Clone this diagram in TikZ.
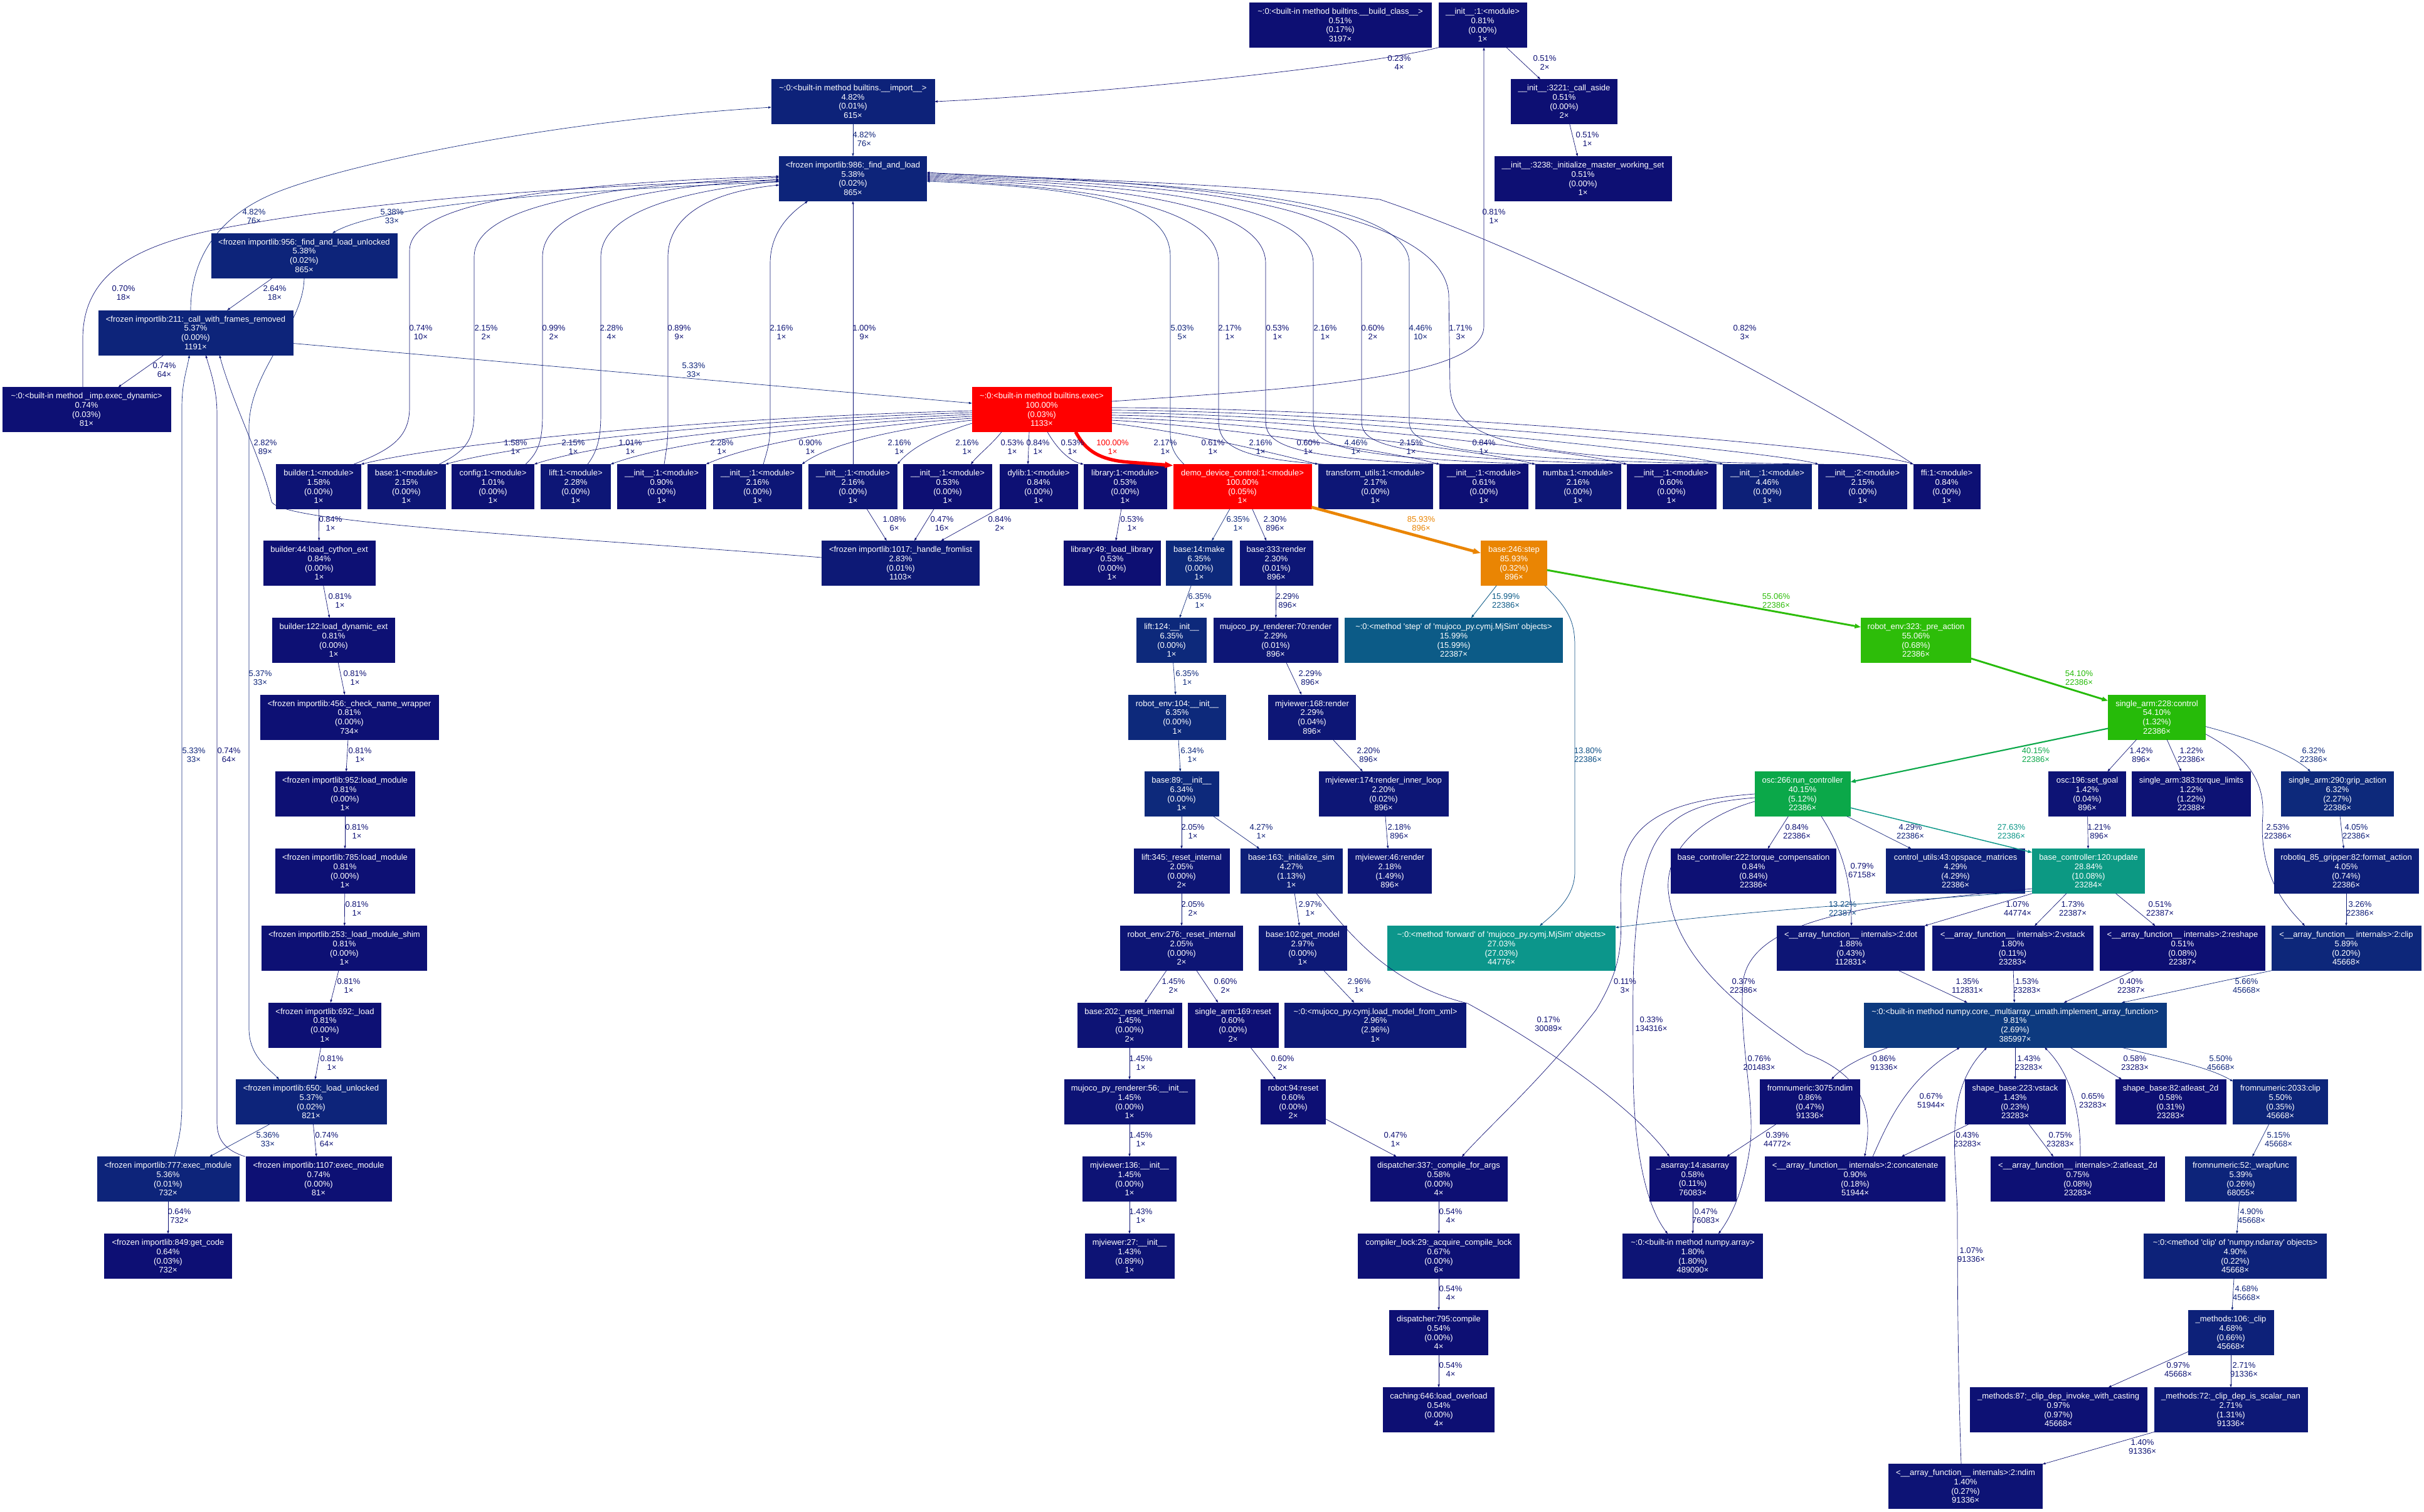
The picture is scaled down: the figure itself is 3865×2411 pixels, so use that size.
\documentclass[tikz,border=0pt]{standalone}
\usepackage{fontspec}
\newfontfamily\gvfont{Liberation Sans}
\usetikzlibrary{arrows.meta}

\newcommand\gvf{\gvfont\fontsize{13}{14.7}\selectfont}

% heat colour: hue runs from dark blue (0%) to red (100%)
\newcommand\heatcolor[2]{%
  \pgfmathsetmacro\hcW{min(max(#2/100,0),1)}%
  \pgfmathsetmacro\hcH{4*(1-\hcW)}%
  \pgfmathsetmacro\hcS{0.8+0.2*\hcW}%
  \pgfmathsetmacro\hcL{0.25+0.25*\hcW}%
  \pgfmathsetmacro\hcC{(1-abs(2*\hcL-1))*\hcS}%
  \pgfmathsetmacro\hcM{\hcL-\hcC/2}%
  \pgfmathsetmacro\hcX{\hcC*(1-abs(mod(\hcH,2)-1))}%
  \pgfmathsetmacro\hcA{\hcM+\hcC}%
  \pgfmathsetmacro\hcB{\hcM+\hcX}%
  \ifdim\hcH pt<1pt \definecolor{#1}{rgb}{\hcA,\hcB,\hcM}%
  \else\ifdim\hcH pt<2pt \definecolor{#1}{rgb}{\hcB,\hcA,\hcM}%
  \else\ifdim\hcH pt<3pt \definecolor{#1}{rgb}{\hcM,\hcA,\hcB}%
  \else \definecolor{#1}{rgb}{\hcM,\hcB,\hcA}\fi\fi\fi}

\tikzset{
  gbox/.style={rectangle,fill=#1,draw=#1,text=white,minimum height=71pt,
    inner xsep=3pt,inner ysep=2pt,align=center,font=\gvf},
  elab/.style={text=edgec,align=center,inner sep=0pt,font=\gvf},
  ed/.code={%
    \heatcolor{edgec}{#1}%
    \pgfmathsetmacro\edPW{max(#1*0.04,0.5)}%
    \pgfmathsetmacro\edLW{\edPW*4/3}%
    \pgfmathsetmacro\edAL{6.6667*sqrt(\edPW)}%
    \pgfmathsetmacro\edAW{0.7*\edAL}%
    \edef\edNext{\noexpand\pgfkeysalso{draw=edgec,line width=\edLW pt,
      -{Triangle[length=\edAL pt,width=\edAW pt]}}}%
    \edNext}
}

% name, x, y, width, total %, function, self %, calls
\newcommand\gnode[8]{\heatcolor{c#1}{#5}%
  \node[gbox=c#1,minimum width=#4pt] (#1) at (#2,#3) {#6\\#5\%\\(#7\%)\\#8×};}

\newcommand\mods{:1:<module>}
\newcommand\ini{\_\_init\_\_}

\begin{document}
\begin{tikzpicture}[x=1pt,y=-1pt]
\fill[white] (0,0) rectangle (3865,2411);
\useasboundingbox (0,0) rectangle (3865,2411);

% ---------------- functions ----------------
\gnode{buildclass}{2137}{40}{290}{0.51}{\textasciitilde:0:<built-in method builtins.\_\_build\_class\_\_>}{0.17}{3197}
\gnode{inittop}{2364}{40}{140}{0.81}{\ini\mods}{0.00}{1}
\gnode{import}{1360}{162}{260}{4.82}{\textasciitilde:0:<built-in method builtins.\_\_import\_\_>}{0.01}{615}
\gnode{callaside}{2494}{162}{169}{0.51}{\ini:3221:\_call\_aside}{0.00}{2}
\gnode{fal}{1360}{285}{235}{5.38}{<frozen importlib:986:\_find\_and\_load}{0.02}{865}
\gnode{imws}{2524}{285}{282}{0.51}{\ini:3238:\_initialize\_master\_working\_set}{0.00}{1}
\gnode{falu}{485}{407.5}{296}{5.38}{<frozen importlib:956:\_find\_and\_load\_unlocked}{0.02}{865}
\gnode{cwfr}{312}{530.5}{310}{5.37}{<frozen importlib:211:\_call\_with\_frames\_removed}{0.00}{1191}
\gnode{execdyn}{138}{653}{268}{0.74}{\textasciitilde:0:<built-in method \_imp.exec\_dynamic>}{0.03}{81}
\gnode{exec}{1661}{653}{222}{100.00}{\textasciitilde:0:<built-in method builtins.exec>}{0.03}{1133}

\gnode{builder1}{508}{776}{135}{1.58}{builder\mods}{0.00}{1}
\gnode{base1}{648}{776}{124}{2.15}{base\mods}{0.00}{1}
\gnode{config1}{786}{776}{131}{1.01}{config\mods}{0.00}{1}
\gnode{lift1}{918}{776}{111}{2.28}{lift\mods}{0.00}{1}
\gnode{initA}{1055}{776}{141}{0.90}{\ini\mods}{0.00}{1}
\gnode{initB}{1208}{776}{141}{2.16}{\ini\mods}{0.00}{1}
\gnode{initC}{1360}{776}{141}{2.16}{\ini\mods}{0.00}{1}
\gnode{initD}{1511}{776}{141}{0.53}{\ini\mods}{0.00}{1}
\gnode{dylib}{1656}{776}{124}{0.84}{dylib\mods}{0.00}{1}
\gnode{library}{1794}{776}{132}{0.53}{library\mods}{0.00}{1}
\gnode{demo}{1981}{776}{220}{100.00}{demo\_device\_control\mods}{0.05}{1}
\gnode{transform}{2193}{776}{182}{2.17}{transform\_utils\mods}{0.00}{1}
\gnode{initE}{2366}{776}{141}{0.61}{\ini\mods}{0.00}{1}
\gnode{numba}{2516}{776}{136}{2.16}{numba\mods}{0.00}{1}
\gnode{initF}{2665}{776}{142}{0.60}{\ini\mods}{0.00}{1}
\gnode{initG}{2818}{776}{141}{4.46}{\ini\mods}{0.00}{1}
\gnode{init2}{2970}{776}{141}{2.15}{\ini:2:<module>}{0.00}{1}
\gnode{ffi}{3104}{776}{106}{0.84}{ffi\mods}{0.00}{1}

\gnode{b44}{509}{898}{178}{0.84}{builder:44:load\_cython\_ext}{0.00}{1}
\gnode{fromlist}{1436}{898}{251}{2.83}{<frozen importlib:1017:\_handle\_fromlist}{0.01}{1103}
\gnode{lib49}{1773}{898}{154}{0.53}{library:49:\_load\_library}{0.00}{1}
\gnode{make}{1912}{898}{105}{6.35}{base:14:make}{0.00}{1}
\gnode{render333}{2035}{898}{116}{2.30}{base:333:render}{0.01}{896}
\gnode{step}{2414}{898}{105}{85.93}{base:246:step}{0.32}{896}

\gnode{b122}{532}{1021}{195}{0.81}{builder:122:load\_dynamic\_ext}{0.00}{1}
\gnode{lift124}{1868}{1021}{111}{6.35}{lift:124:\ini}{0.00}{1}
\gnode{mpr70}{2034}{1021}{198}{2.29}{mujoco\_py\_renderer:70:render}{0.01}{896}
\gnode{mjstep}{2318}{1021}{347}{15.99}{\textasciitilde:0:<method 'step' of 'mujoco\_py.cymj.MjSim' objects>}{15.99}{22387}
\gnode{preaction}{3055}{1021}{175}{55.06}{robot\_env:323:\_pre\_action}{0.68}{22386}

\gnode{cnw}{557}{1143.5}{284}{0.81}{<frozen importlib:456:\_check\_name\_wrapper}{0.00}{734}
\gnode{renv104}{1877}{1143.5}{155}{6.35}{robot\_env:104:\ini}{0.00}{1}
\gnode{mjv168}{2092}{1143.5}{139}{2.29}{mjviewer:168:render}{0.04}{896}
\gnode{control}{3439}{1143.5}{155}{54.10}{single\_arm:228:control}{1.32}{22386}

\gnode{lm952}{550}{1266}{222}{0.81}{<frozen importlib:952:load\_module}{0.00}{1}
\gnode{base89}{1884}{1266}{118}{6.34}{base:89:\ini}{0.00}{1}
\gnode{mjv174}{2206}{1266}{206}{2.20}{mjviewer:174:render\_inner\_loop}{0.02}{896}
\gnode{osc266}{2874}{1266}{152}{40.15}{osc:266:run\_controller}{5.12}{22386}
\gnode{osc196}{3328}{1266}{123}{1.42}{osc:196:set\_goal}{0.04}{896}
\gnode{torque}{3494}{1266}{189}{1.22}{single\_arm:383:torque\_limits}{1.22}{22388}
\gnode{grip}{3727}{1266}{179}{6.32}{single\_arm:290:grip\_action}{2.27}{22386}

\gnode{lm785}{550}{1389}{222}{0.81}{<frozen importlib:785:load\_module}{0.00}{1}
\gnode{lift345}{1884}{1389}{152}{2.05}{lift:345:\_reset\_internal}{0.00}{2}
\gnode{base163}{2059}{1389}{162}{4.27}{base:163:\_initialize\_sim}{1.13}{1}
\gnode{mjv46}{2216}{1389}{133}{2.18}{mjviewer:46:render}{1.49}{896}
\gnode{bc222}{2796}{1389}{263}{0.84}{base\_controller:222:torque\_compensation}{0.84}{22386}
\gnode{cu43}{3118}{1389}{221}{4.29}{control\_utils:43:opspace\_matrices}{4.29}{22386}
\gnode{update}{3330}{1389}{179}{28.84}{base\_controller:120:update}{10.08}{23284}
\gnode{robotiq}{3741}{1389}{230}{4.05}{robotiq\_85\_gripper:82:format\_action}{0.74}{22386}

\gnode{shim253}{549}{1512}{263}{0.81}{<frozen importlib:253:\_load\_module\_shim}{0.00}{1}
\gnode{renv276}{1884}{1512}{195}{2.05}{robot\_env:276:\_reset\_internal}{0.00}{2}
\gnode{getmodel}{2077}{1512}{140}{2.97}{base:102:get\_model}{0.00}{1}
\gnode{forward}{2394}{1512}{363}{27.03}{\textasciitilde:0:<method 'forward' of 'mujoco\_py.cymj.MjSim' objects>}{27.03}{44776}
\gnode{dot}{2951}{1512}{235}{1.88}{<\_\_array\_function\_\_ internals>:2:dot}{0.43}{112831}
\gnode{ivstack}{3209}{1512}{256}{1.80}{<\_\_array\_function\_\_ internals>:2:vstack}{0.11}{23283}
\gnode{reshape}{3480}{1512}{263}{0.51}{<\_\_array\_function\_\_ internals>:2:reshape}{0.08}{22387}
\gnode{iclip}{3741}{1512}{238}{5.89}{<\_\_array\_function\_\_ internals>:2:clip}{0.20}{45668}

\gnode{load692}{518}{1634.5}{179}{0.81}{<frozen importlib:692:\_load}{0.00}{1}
\gnode{base202}{1801}{1634.5}{166}{1.45}{base:202:\_reset\_internal}{0.00}{2}
\gnode{sa169}{1966}{1634.5}{144}{0.60}{single\_arm:169:reset}{0.00}{2}
\gnode{xml}{2193}{1634.5}{289}{2.96}{\textasciitilde:0:<mujoco\_py.cymj.load\_model\_from\_xml>}{2.96}{1}
\gnode{implement}{3213}{1634.5}{482}{9.81}{\textasciitilde:0:<built-in method numpy.core.\_multiarray\_umath.implement\_array\_function>}{2.69}{385997}

\gnode{lu650}{496}{1757}{240}{5.37}{<frozen importlib:650:\_load\_unlocked}{0.02}{821}
\gnode{mpr56}{1801}{1757}{208}{1.45}{mujoco\_py\_renderer:56:\ini}{0.00}{1}
\gnode{robot94}{2062}{1757}{103}{0.60}{robot:94:reset}{0.00}{2}
\gnode{fnndim}{2886}{1757}{159}{0.86}{fromnumeric:3075:ndim}{0.47}{91336}
\gnode{svstack}{3213}{1757}{160}{1.43}{shape\_base:223:vstack}{0.23}{23283}
\gnode{satl}{3461}{1757}{176}{0.58}{shape\_base:82:atleast\_2d}{0.31}{23283}
\gnode{fnclip}{3636}{1757}{151}{5.50}{fromnumeric:2033:clip}{0.35}{45668}

\gnode{em777}{268}{1880}{226}{5.36}{<frozen importlib:777:exec\_module}{0.01}{732}
\gnode{em1107}{508}{1880}{232}{0.74}{<frozen importlib:1107:exec\_module}{0.00}{81}
\gnode{mjv136}{1801}{1880}{149}{1.45}{mjviewer:136:\ini}{0.00}{1}
\gnode{disp337}{2294}{1880}{218}{0.58}{dispatcher:337:\_compile\_for\_args}{0.00}{4}
\gnode{asarray}{2699}{1880}{138}{0.58}{\_asarray:14:asarray}{0.11}{76083}
\gnode{concat}{2958}{1880}{287}{0.90}{<\_\_array\_function\_\_ internals>:2:concatenate}{0.18}{51944}
\gnode{iatl}{3313}{1880}{277}{0.75}{<\_\_array\_function\_\_ internals>:2:atleast\_2d}{0.08}{23283}
\gnode{wrapfunc}{3573}{1880}{177}{5.39}{fromnumeric:52:\_wrapfunc}{0.26}{68055}

\gnode{getcode}{268}{2003}{203}{0.64}{<frozen importlib:849:get\_code}{0.03}{732}
\gnode{mjv27}{1801}{2003}{142}{1.43}{mjviewer:27:\ini}{0.89}{1}
\gnode{clock}{2294}{2003}{257}{0.67}{compiler\_lock:29:\_acquire\_compile\_lock}{0.00}{6}
\gnode{nparray}{2699}{2003}{223}{1.80}{\textasciitilde:0:<built-in method numpy.array>}{1.80}{489090}
\gnode{mclip}{3564}{2003}{291}{4.90}{\textasciitilde:0:<method 'clip' of 'numpy.ndarray' objects>}{0.22}{45668}

\gnode{disp795}{2294}{2125}{157}{0.54}{dispatcher:795:compile}{0.00}{4}
\gnode{m106}{3557}{2125}{136}{4.68}{\_methods:106:\_clip}{0.66}{45668}
\gnode{caching}{2294}{2248}{177}{0.54}{caching:646:load\_overload}{0.00}{4}
\gnode{m87}{3282}{2248}{282}{0.97}{\_methods:87:\_clip\_dep\_invoke\_with\_casting}{0.97}{45668}
\gnode{m72}{3557}{2248}{244}{2.71}{\_methods:72:\_clip\_dep\_is\_scalar\_nan}{1.31}{91336}
\gnode{indim}{3134}{2370}{245}{1.40}{<\_\_array\_function\_\_ internals>:2:ndim}{0.27}{91336}

% ---------------- calls: import machinery ----------------
\draw[ed=0.23] (inittop.south west) .. controls (2180,105) and (1750,150) .. (import.east) node[elab] at (2231,100) {0.23\%\\4×};
\draw[ed=0.51] (inittop) -- (callaside) node[elab] at (2463,100) {0.51\%\\2×};
\draw[ed=0.51] (callaside) -- (imws) node[elab] at (2531,222) {0.51\%\\1×};
\draw[ed=4.82] (import) -- (fal) node[elab] at (1378,222) {4.82\%\\76×};
\draw[ed=4.82] ([xshift=-8]cwfr.north) .. controls (304,420) and (340,350) .. (433,310) .. controls (530,268) and (850,195) .. ([yshift=-9]import.west) node[elab] at (405,345) {4.82\%\\76×};
\draw[ed=5.38] ([yshift=-5]fal.west) .. controls (1000,300) and (620,320) .. ([xshift=45]falu.north) node[elab] at (625,345) {5.38\%\\33×};
\draw[ed=2.64] (falu) -- (cwfr) node[elab] at (438,467) {2.64\%\\18×};
\draw[ed=5.37] (falu.south) .. controls (484,520) and (398,590) .. (397,680) -- (397,1640) .. controls (397,1685) and (430,1705) .. ([xshift=-51]lu650.north) node[elab] at (415,1081) {5.37\%\\33×};
\draw[ed=0.74] (cwfr) -- (execdyn) node[elab] at (262,590) {0.74\%\\64×};
\draw[ed=0.70] ([xshift=-6]execdyn.north) -- (132,540) .. controls (132,440) and (210,395) .. (334,368) .. controls (600,315) and (1000,292) .. ([yshift=-3]fal.west) node[elab] at (197,467) {0.70\%\\18×};
\draw[ed=5.33] ([yshift=-17]cwfr.east) -- ([yshift=10]exec.west) node[elab] at (1106,590) {5.33\%\\33×};
\draw[ed=2.82] ([yshift=9]fromlist.west) .. controls (900,856) and (450,835) .. (433,800) .. controls (420,740) and (370,640) .. ([xshift=38]cwfr.south) node[elab] at (423,713) {2.82\%\\89×};
\draw[ed=5.33] ([xshift=10]em777.north) .. controls (286,1815) and (290,1795) .. (290,1760) -- (290,650) .. controls (290,610) and (298,590) .. ([xshift=-10]cwfr.south) node[elab] at (309,1204) {5.33\%\\33×};
\draw[ed=0.74] ([xshift=-117]em1107.north) .. controls (362,1835) and (346,1820) .. (346,1790) -- (346,660) .. controls (346,620) and (335,590) .. ([xshift=16]cwfr.south) node[elab] at (365,1204) {0.74\%\\64×};

% exec -> modules
\draw[ed=100] ([xshift=54]exec.south) .. controls (1728,712) and (1745,733) .. (1800,737) -- ([yshift=-2]demo.north west) node[elab] at (1774,713) {100.00\%\\1×};
\draw[ed=0.81] ([yshift=13]exec.east) .. controls (2100,618) and (2366,600) .. (2366,520) -- ([xshift=2]inittop.south) node[elab] at (2382,345) {0.81\%\\1×};
\draw[ed=1.58] ([yshift=-2]exec.west) .. controls (1150,665) and (720,705) .. (builder1.north east) node[elab] at (822,713) {1.58\%\\1×};
\draw[ed=2.15] ([yshift=-5]exec.west) .. controls (1200,668) and (840,705) .. (base1.north east) node[elab] at (914,713) {2.15\%\\1×};
\draw[ed=1.01] ([yshift=-8]exec.west) .. controls (1250,672) and (960,705) .. (config1.north east) node[elab] at (1005,713) {1.01\%\\1×};
\draw[ed=2.28] ([yshift=-11]exec.west) .. controls (1300,676) and (1070,705) .. (lift1.north east) node[elab] at (1151,713) {2.28\%\\1×};
\draw[ed=0.90] ([yshift=-14]exec.west) .. controls (1350,680) and (1200,708) .. (initA.north east) node[elab] at (1292,713) {0.90\%\\1×};
\draw[ed=2.16] ([yshift=-17]exec.west) .. controls (1420,684) and (1320,710) .. (initB.north east) node[elab] at (1434,713) {2.16\%\\1×};
\draw[ed=2.16] ([yshift=-22]exec.west) .. controls (1500,690) and (1455,712) .. (initC.north east) node[elab] at (1542,713) {2.16\%\\1×};
\draw[ed=0.53] ([xshift=-64]exec.south) .. controls (1580,710) and (1560,725) .. ([xshift=37]initD.north) node[elab] at (1614,713) {0.53\%\\1×};
\draw[ed=0.84] ([xshift=-20]exec.south) -- ([xshift=-17]dylib.north) node[elab] at (1655,713) {0.84\%\\1×};
\draw[ed=0.53] ([xshift=9]exec.south) .. controls (1685,715) and (1705,735) .. (library.north west) node[elab] at (1710,713) {0.53\%\\1×};
\draw[ed=2.17] ([yshift=-22]exec.east) .. controls (1900,690) and (2040,725) .. (transform.north west) node[elab] at (1858,713) {2.17\%\\1×};
\draw[ed=0.61] ([yshift=-17]exec.east) .. controls (1950,680) and (2220,720) .. (initE.north west) node[elab] at (1934,713) {0.61\%\\1×};
\draw[ed=2.16] ([yshift=-13]exec.east) .. controls (2000,672) and (2370,720) .. (numba.north west) node[elab] at (2010,713) {2.16\%\\1×};
\draw[ed=0.60] ([yshift=-9]exec.east) .. controls (2050,665) and (2520,720) .. (initF.north west) node[elab] at (2086,713) {0.60\%\\1×};
\draw[ed=4.46] ([yshift=-5]exec.east) .. controls (2100,660) and (2680,720) .. (initG.north west) node[elab] at (2162,713) {4.46\%\\1×};
\draw[ed=2.15] ([yshift=-1]exec.east) .. controls (2150,655) and (2830,720) .. (init2.north west) node[elab] at (2250,713) {2.15\%\\1×};
\draw[ed=0.84] ([yshift=3]exec.east) .. controls (2200,650) and (2980,715) .. (ffi.north west) node[elab] at (2366,713) {0.84\%\\1×};

% modules -> _find_and_load
\draw[ed=0.74] ([xshift=56]builder1.north) .. controls (620,718) and (653,700) .. (653,650) -- (653,400) .. controls (653,320) and (900,292) .. ([yshift=4]fal.west) node[elab] at (671,530) {0.74\%\\10×};
\draw[ed=2.15] ([xshift=52]base1.north) .. controls (745,718) and (756,700) .. (756,655) -- (756,410) .. controls (756,330) and (950,296) .. ([yshift=2]fal.west) node[elab] at (775,530) {2.15\%\\2×};
\draw[ed=0.99] ([xshift=52]config1.north) .. controls (860,720) and (865,700) .. (865,660) -- (865,410) .. controls (865,335) and (1000,300) .. ([yshift=-1]fal.west) node[elab] at (883,530) {0.99\%\\2×};
\draw[ed=2.28] ([xshift=19]lift1.north) .. controls (952,720) and (958,700) .. (958,660) -- (958,410) .. controls (958,340) and (1080,305) .. ([yshift=-4]fal.west) node[elab] at (975,530) {2.28\%\\4×};
\draw[ed=0.89] ([xshift=4]initA.north) .. controls (1062,720) and (1065,705) .. (1065,680) -- (1065,410) .. controls (1065,340) and (1140,305) .. ([yshift=-10]fal.west) node[elab] at (1083,530) {0.89\%\\9×};
\draw[ed=2.16] ([xshift=9]initB.north) .. controls (1223,720) and (1228,705) .. (1228,680) -- (1228,420) .. controls (1228,370) and (1260,340) .. ([xshift=-72]fal.south) node[elab] at (1246,530) {2.16\%\\1×};
\draw[ed=1.00] (initC) -- (fal) node[elab] at (1378,530) {1.00\%\\9×};
\draw[ed=5.03] ([xshift=-93]demo.north) .. controls (1872,725) and (1866,712) .. (1866,690) -- (1866,410) .. controls (1866,330) and (1760,300) .. ([yshift=-4]fal.east) node[elab] at (1885,530) {5.03\%\\5×};
\draw[ed=2.17] ([xshift=-83]transform.north) .. controls (1960,730) and (1943,705) .. (1943,670) -- (1943,420) .. controls (1943,330) and (1750,298) .. ([yshift=-2]fal.east) node[elab] at (1961,530) {2.17\%\\1×};
\draw[ed=0.53] ([xshift=-62]initE.north) .. controls (2040,730) and (2018,705) .. (2018,670) -- (2018,420) .. controls (2018,325) and (1780,296) .. (fal.east) node[elab] at (2037,530) {0.53\%\\1×};
\draw[ed=2.16] ([xshift=-60]numba.north) .. controls (2115,730) and (2094,705) .. (2094,670) -- (2094,420) .. controls (2094,320) and (1800,293) .. ([yshift=2]fal.east) node[elab] at (2113,530) {2.16\%\\1×};
\draw[ed=0.60] ([xshift=-62]initF.north) .. controls (2192,730) and (2171,705) .. (2171,670) -- (2171,420) .. controls (2171,315) and (1820,291) .. ([yshift=4]fal.east) node[elab] at (2189,530) {0.60\%\\2×};
\draw[ed=4.46] ([xshift=-62]initG.north) .. controls (2268,730) and (2247,705) .. (2247,670) -- (2247,420) .. controls (2247,310) and (1850,289) .. ([yshift=6]fal.east) node[elab] at (2265,530) {4.46\%\\10×};
\draw[ed=1.71] ([xshift=-62]init2.north) .. controls (2400,735) and (2320,700) .. (2312,620) -- (2310,470) .. controls (2300,330) and (1900,287) .. ([yshift=8]fal.east) node[elab] at (2329,530) {1.71\%\\3×};
\draw[ed=0.82] (ffi.north west) .. controls (2900,640) and (2500,420) .. (2200,318) .. controls (1950,290) and (1650,285) .. ([yshift=10]fal.east) node[elab] at (2782,530) {0.82\%\\3×};

% module loading chain
\draw[ed=0.84] (builder1) -- (b44) node[elab] at (527,835) {0.84\%\\1×};
\draw[ed=0.81] (b44) -- (b122) node[elab] at (542,958) {0.81\%\\1×};
\draw[ed=0.81] (b122) -- (cnw) node[elab] at (566,1081) {0.81\%\\1×};
\draw[ed=0.81] (cnw) -- (lm952) node[elab] at (574,1204) {0.81\%\\1×};
\draw[ed=0.81] (lm952) -- (lm785) node[elab] at (569,1326) {0.81\%\\1×};
\draw[ed=0.81] (lm785) -- (shim253) node[elab] at (569,1449) {0.81\%\\1×};
\draw[ed=0.81] (shim253) -- (load692) node[elab] at (556,1572) {0.81\%\\1×};
\draw[ed=0.81] (load692) -- (lu650) node[elab] at (529,1695) {0.81\%\\1×};
\draw[ed=5.36] (lu650) -- (em777) node[elab] at (427,1817) {5.36\%\\33×};
\draw[ed=0.74] (lu650) -- (em1107) node[elab] at (521,1817) {0.74\%\\64×};
\draw[ed=0.64] (em777) -- (getcode) node[elab] at (286,1939) {0.64\%\\732×};
\draw[ed=1.08] (initC) -- (fromlist) node[elab] at (1426,835) {1.08\%\\6×};
\draw[ed=0.47] (initD) -- (fromlist) node[elab] at (1502,835) {0.47\%\\16×};
\draw[ed=0.84] (dylib) -- (fromlist) node[elab] at (1594,835) {0.84\%\\2×};
\draw[ed=0.53] (library) -- (lib49) node[elab] at (1805,835) {0.53\%\\1×};

% simulation set-up and rendering
\draw[ed=6.35] (demo) -- (make) node[elab] at (1974,835) {6.35\%\\1×};
\draw[ed=2.30] (demo) -- (render333) node[elab] at (2033,835) {2.30\%\\896×};
\draw[ed=85.93] ([yshift=3]demo.south east) -- ([yshift=16]step.west) node[elab] at (2266,835) {85.93\%\\896×};
\draw[ed=6.35] (make) -- (lift124) node[elab] at (1913,958) {6.35\%\\1×};
\draw[ed=6.35] (lift124) -- (renv104) node[elab] at (1893,1081) {6.35\%\\1×};
\draw[ed=6.34] (renv104) -- (base89) node[elab] at (1901,1204) {6.34\%\\1×};
\draw[ed=2.05] (base89) -- (lift345) node[elab] at (1902,1326) {2.05\%\\1×};
\draw[ed=4.27] (base89) -- (base163) node[elab] at (2011,1326) {4.27\%\\1×};
\draw[ed=2.05] (lift345) -- (renv276) node[elab] at (1902,1449) {2.05\%\\2×};
\draw[ed=1.45] (renv276) -- (base202) node[elab] at (1871,1572) {1.45\%\\2×};
\draw[ed=0.60] (renv276) -- (sa169) node[elab] at (1954,1572) {0.60\%\\2×};
\draw[ed=1.45] (base202) -- (mpr56) node[elab] at (1819,1695) {1.45\%\\1×};
\draw[ed=1.45] (mpr56) -- (mjv136) node[elab] at (1819,1817) {1.45\%\\1×};
\draw[ed=1.43] (mjv136) -- (mjv27) node[elab] at (1819,1939) {1.43\%\\1×};
\draw[ed=0.60] (sa169) -- (robot94) node[elab] at (2045,1695) {0.60\%\\2×};
\draw[ed=0.47] (robot94) -- (disp337) node[elab] at (2225,1817) {0.47\%\\1×};
\draw[ed=0.54] (disp337) -- (clock) node[elab] at (2313,1939) {0.54\%\\4×};
\draw[ed=0.54] (clock) -- (disp795) node[elab] at (2313,2062) {0.54\%\\4×};
\draw[ed=0.54] (disp795) -- (caching) node[elab] at (2313,2184) {0.54\%\\4×};
\draw[ed=2.97] (base163) -- (getmodel) node[elab] at (2089,1449) {2.97\%\\1×};
\draw[ed=2.96] (getmodel) -- (xml) node[elab] at (2167,1572) {2.96\%\\1×};
\draw[ed=0.17] ([xshift=40]base163.south) .. controls (2160,1500) and (2220,1570) .. (2340,1600) .. controls (2450,1660) and (2600,1760) .. ([xshift=-37]asarray.north) node[elab] at (2469,1633) {0.17\%\\30089×};
\draw[ed=2.29] (render333) -- (mpr70) node[elab] at (2053,958) {2.29\%\\896×};
\draw[ed=2.29] (mpr70) -- (mjv168) node[elab] at (2089,1081) {2.29\%\\896×};
\draw[ed=2.20] (mjv168) -- (mjv174) node[elab] at (2182,1204) {2.20\%\\896×};
\draw[ed=2.18] (mjv174) -- (mjv46) node[elab] at (2231,1326) {2.18\%\\896×};

% simulation step and control
\draw[ed=15.99] (step) -- (mjstep) node[elab] at (2401,958) {15.99\%\\22386×};
\draw[ed=13.80] ([xshift=49]step.south) .. controls (2500,970) and (2511,990) .. (2511,1030) -- (2511,1390) .. controls (2511,1430) and (2480,1455) .. ([xshift=61]forward.north) node[elab] at (2532,1204) {13.80\%\\22386×};
\draw[ed=55.06] ([yshift=-11]step.east) -- ([yshift=21]preaction.west) node[elab] at (2832,958) {55.06\%\\22386×};
\draw[ed=54.10] ([yshift=-29]preaction.east) -- ([yshift=26]control.west) node[elab] at (3315,1081) {54.10\%\\22386×};
\draw[ed=40.15] ([yshift=-18]control.west) -- ([yshift=19]osc266.east) node[elab] at (3246,1204) {40.15\%\\22386×};
\draw[ed=1.42] (control) -- (osc196) node[elab] at (3414,1204) {1.42\%\\896×};
\draw[ed=1.22] (control) -- (torque) node[elab] at (3494,1204) {1.22\%\\22386×};
\draw[ed=6.32] ([yshift=-15]control.east) .. controls (3580,1175) and (3650,1200) .. ([xshift=-43]grip.north) node[elab] at (3689,1204) {6.32\%\\22386×};
\draw[ed=2.53] ([yshift=-27]control.east) .. controls (3590,1210) and (3610,1250) .. (3608,1300) .. controls (3600,1400) and (3650,1450) .. ([xshift=-66]iclip.north) node[elab] at (3632,1326) {2.53\%\\22386×};
\draw[ed=4.05] (grip) -- (robotiq) node[elab] at (3757,1326) {4.05\%\\22386×};
\draw[ed=3.26] (robotiq) -- (iclip) node[elab] at (3763,1449) {3.26\%\\22386×};
\draw[ed=1.21] (osc196) -- (update) node[elab] at (3347,1326) {1.21\%\\896×};
\draw[ed=0.84] (osc266) -- (bc222) node[elab] at (2865,1326) {0.84\%\\22386×};
\draw[ed=4.29] (osc266) -- (cu43) node[elab] at (3046,1326) {4.29\%\\22386×};
\draw[ed=27.63] ([yshift=-22]osc266.east) -- ([yshift=-6]update.north west) node[elab] at (3207,1326) {27.63\%\\22386×};
\draw[ed=0.79] ([xshift=30]osc266.south) .. controls (2935,1350) and (2952,1400) .. ([xshift=1]dot.north) node[elab] at (2969,1388) {0.79\%\\67158×};
\draw[ed=0.11] (osc266.west) .. controls (2680,1275) and (2590,1300) .. (2585,1400) .. controls (2580,1480) and (2600,1520) .. (2545,1610) .. controls (2460,1720) and (2380,1790) .. ([xshift=37]disp337.north) node[elab] at (2591,1572) {0.11\%\\3×};
\draw[ed=0.33] ([yshift=-6]osc266.west) .. controls (2700,1280) and (2640,1300) .. (2620,1400) .. controls (2600,1500) and (2604,1600) .. (2604,1700) .. controls (2604,1850) and (2630,1930) .. ([xshift=-40]nparray.north) node[elab] at (2633,1633) {0.33\%\\134316×};
\draw[ed=0.37] ([yshift=-12]osc266.west) .. controls (2720,1300) and (2655,1350) .. (2660,1420) .. controls (2670,1520) and (2760,1600) .. (2880,1680) .. controls (2960,1710) and (2990,1760) .. ([xshift=15]concat.north) node[elab] at (2780,1572) {0.37\%\\22386×};
\draw[ed=0.76] ([yshift=-28]update.west) .. controls (3000,1440) and (2800,1460) .. (2780,1560) .. controls (2770,1650) and (2800,1760) .. (2790,1830) .. controls (2780,1900) and (2760,1940) .. ([xshift=41]nparray.north) node[elab] at (2805,1695) {0.76\%\\201483×};
\draw[ed=13.22] ([yshift=-32]update.west) .. controls (3000,1440) and (2800,1450) .. ([yshift=33]forward.east) node[elab] at (2938,1449) {13.22\%\\22387×};
\draw[ed=1.07] (update.south west) -- (dot.north east) node[elab] at (3217,1449) {1.07\%\\44774×};
\draw[ed=1.73] (update) -- (ivstack) node[elab] at (3305,1449) {1.73\%\\22387×};
\draw[ed=0.51] (update) -- (reshape) node[elab] at (3444,1449) {0.51\%\\22387×};

% numpy internals
\draw[ed=1.35] (dot) -- (implement) node[elab] at (3137,1572) {1.35\%\\112831×};
\draw[ed=1.53] (ivstack) -- (implement) node[elab] at (3232,1572) {1.53\%\\23283×};
\draw[ed=0.40] (reshape) -- (implement) node[elab] at (3398,1572) {0.40\%\\22387×};
\draw[ed=5.66] (iclip.south west) -- ([xshift=170]implement.north) node[elab] at (3582,1572) {5.66\%\\45668×};
\draw[ed=0.86] ([xshift=-202]implement.south) .. controls (2970,1685) and (2940,1700) .. ([xshift=34]fnndim.north) node[elab] at (3004,1695) {0.86\%\\91336×};
\draw[ed=1.43] (implement) -- (svstack) node[elab] at (3235,1695) {1.43\%\\23283×};
\draw[ed=0.58] ([xshift=88]implement.south) -- ([xshift=-78]satl.north) node[elab] at (3404,1695) {0.58\%\\23283×};
\draw[ed=5.50] ([xshift=170]implement.south) .. controls (3440,1685) and (3520,1700) .. ([yshift=-3]fnclip.north west) node[elab] at (3541,1695) {5.50\%\\45668×};
\draw[ed=0.39] (fnndim) -- (asarray) node[elab] at (2834,1817) {0.39\%\\44772×};
\draw[ed=0.43] (svstack) -- (concat) node[elab] at (3137,1817) {0.43\%\\23283×};
\draw[ed=0.75] ([xshift=22]svstack.south) -- ([xshift=-39]iatl.north) node[elab] at (3285,1817) {0.75\%\\23283×};
\draw[ed=0.67] ([xshift=28]concat.north) .. controls (3010,1790) and (3040,1720) .. ([xshift=-88]implement.south) node[elab] at (3079,1755) {0.67\%\\51944×};
\draw[ed=0.65] ([xshift=4]iatl.north) .. controls (3318,1770) and (3300,1710) .. ([xshift=47]implement.south) node[elab] at (3337,1755) {0.65\%\\23283×};
\draw[ed=1.07] ([xshift=-7]indim.north) .. controls (3122,2200) and (3121,2050) .. (3121,1936) .. controls (3118,1830) and (3100,1740) .. ([xshift=-45]implement.south) node[elab] at (3143,2001) {1.07\%\\91336×};
\draw[ed=5.15] (fnclip) -- (wrapfunc) node[elab] at (3633,1817) {5.15\%\\45668×};
\draw[ed=4.90] (wrapfunc) -- (mclip) node[elab] at (3590,1939) {4.90\%\\45668×};
\draw[ed=4.68] (mclip) -- (m106) node[elab] at (3582,2062) {4.68\%\\45668×};
\draw[ed=0.97] (m106) -- (m87) node[elab] at (3473,2184) {0.97\%\\45668×};
\draw[ed=2.71] (m106) -- (m72) node[elab] at (3578,2184) {2.71\%\\91336×};
\draw[ed=1.40] (m72) -- (indim) node[elab] at (3416,2307) {1.40\%\\91336×};
\draw[ed=0.47] (asarray) -- (nparray) node[elab] at (2720,1939) {0.47\%\\76083×};
\end{tikzpicture}
\end{document}
